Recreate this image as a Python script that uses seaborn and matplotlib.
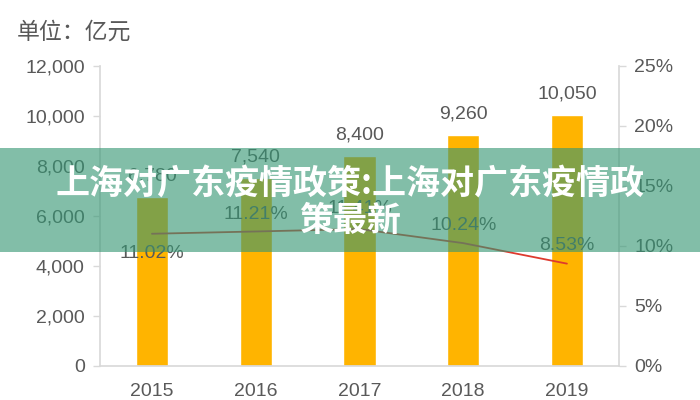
import numpy as np
import pandas as pd
import matplotlib
matplotlib.use('Agg')
import matplotlib.pyplot as plt
import seaborn as sns
from matplotlib.patches import Rectangle

# ---- data ----
years = ['2015', '2016', '2017', '2018', '2019']
amounts = [6780, 7540, 8400, 9260, 10050]          # 亿元
growth = [11.02, 11.21, 11.41, 10.24, 8.53]         # %
left_ticks = [0, 2000, 4000, 6000, 8000, 10000, 12000]
right_ticks = [0, 5, 10, 15, 20, 25]

unit_text = '单位：亿元'
banner_text = '上海对广东疫情政策:上海对广东疫情政\n策最新'

sns.set_theme(style='white')
plt.rcParams['font.family'] = ['Liberation Sans', 'Noto Sans CJK SC', 'DejaVu Sans']

BAR = '#FFB400'
LINE = '#DE3A2E'
TXT = '#595959'
AXC = '#D9D9D9'

df = pd.DataFrame({'year': years, 'amount': amounts, 'growth': growth})

fig = plt.figure(figsize=(7, 4), dpi=100)
ax = fig.add_axes([0.143, 0.085, 0.741, 0.75])

sns.barplot(data=df, x='year', y='amount', color=BAR, width=0.31,
            saturation=1, ax=ax)
ax.set_ylim(0, 12000)
ax.set_yticks(left_ticks)
ax.set_yticklabels([f'{v:,}' for v in left_ticks])
ax.set_xlabel('')
ax.set_ylabel('')
ax.set_xlim(-0.5, len(years) - 0.5)

for i, v in enumerate(amounts):
    ax.annotate(f'{v:,}', (i, v), xytext=(0, 15), textcoords='offset points',
                ha='center', va='center', fontsize=14, color=TXT)

ax2 = ax.twinx()
sns.lineplot(x=np.arange(len(years)), y=growth, color=LINE, linewidth=1.3, ax=ax2)
ax2.set_ylim(0, 25)
ax2.set_yticks(right_ticks)
ax2.set_yticklabels([f'{v}%' for v in right_ticks])
ax2.set_xlim(-0.5, len(years) - 0.5)

offsets = [-14, 12, 15, 13, 13]
for i, v in enumerate(growth):
    ax2.annotate(f'{v:.2f}%', (i, v), xytext=(0, offsets[i]), textcoords='offset points',
                 ha='center', va='center', fontsize=14, color=TXT)

for a in (ax, ax2):
    for s in a.spines.values():
        s.set_visible(False)
    a.tick_params(axis='y', colors=AXC, labelcolor=TXT, labelsize=14,
                  length=5, width=1, direction='out', pad=6)
    a.grid(False)
ax.spines['left'].set_visible(True)
ax.spines['left'].set_color(AXC)
ax.spines['bottom'].set_visible(True)
ax.spines['bottom'].set_color(AXC)
ax2.spines['right'].set_visible(True)
ax2.spines['right'].set_color(AXC)
ax.tick_params(axis='x', length=0, labelsize=14, labelcolor=TXT, pad=12)
ax2.tick_params(axis='y', left=False, right=True)

fig.text(0.024, 0.92, unit_text, fontsize=16.5, color=TXT, ha='left', va='center')

# green banner overlaid on the picture
fig.patches.append(Rectangle((0, 0.37), 1, 0.26, transform=fig.transFigure,
                             facecolor='#359673', alpha=0.62, edgecolor='none',
                             zorder=10))
fig.text(0.5, 0.495, banner_text, fontsize=24.5, color='white', fontweight='heavy',
         ha='center', va='center', multialignment='center', linespacing=1.05,
         family=['Noto Sans CJK SC', 'DejaVu Sans'], zorder=11)

fig.savefig('out.png', dpi=100)
